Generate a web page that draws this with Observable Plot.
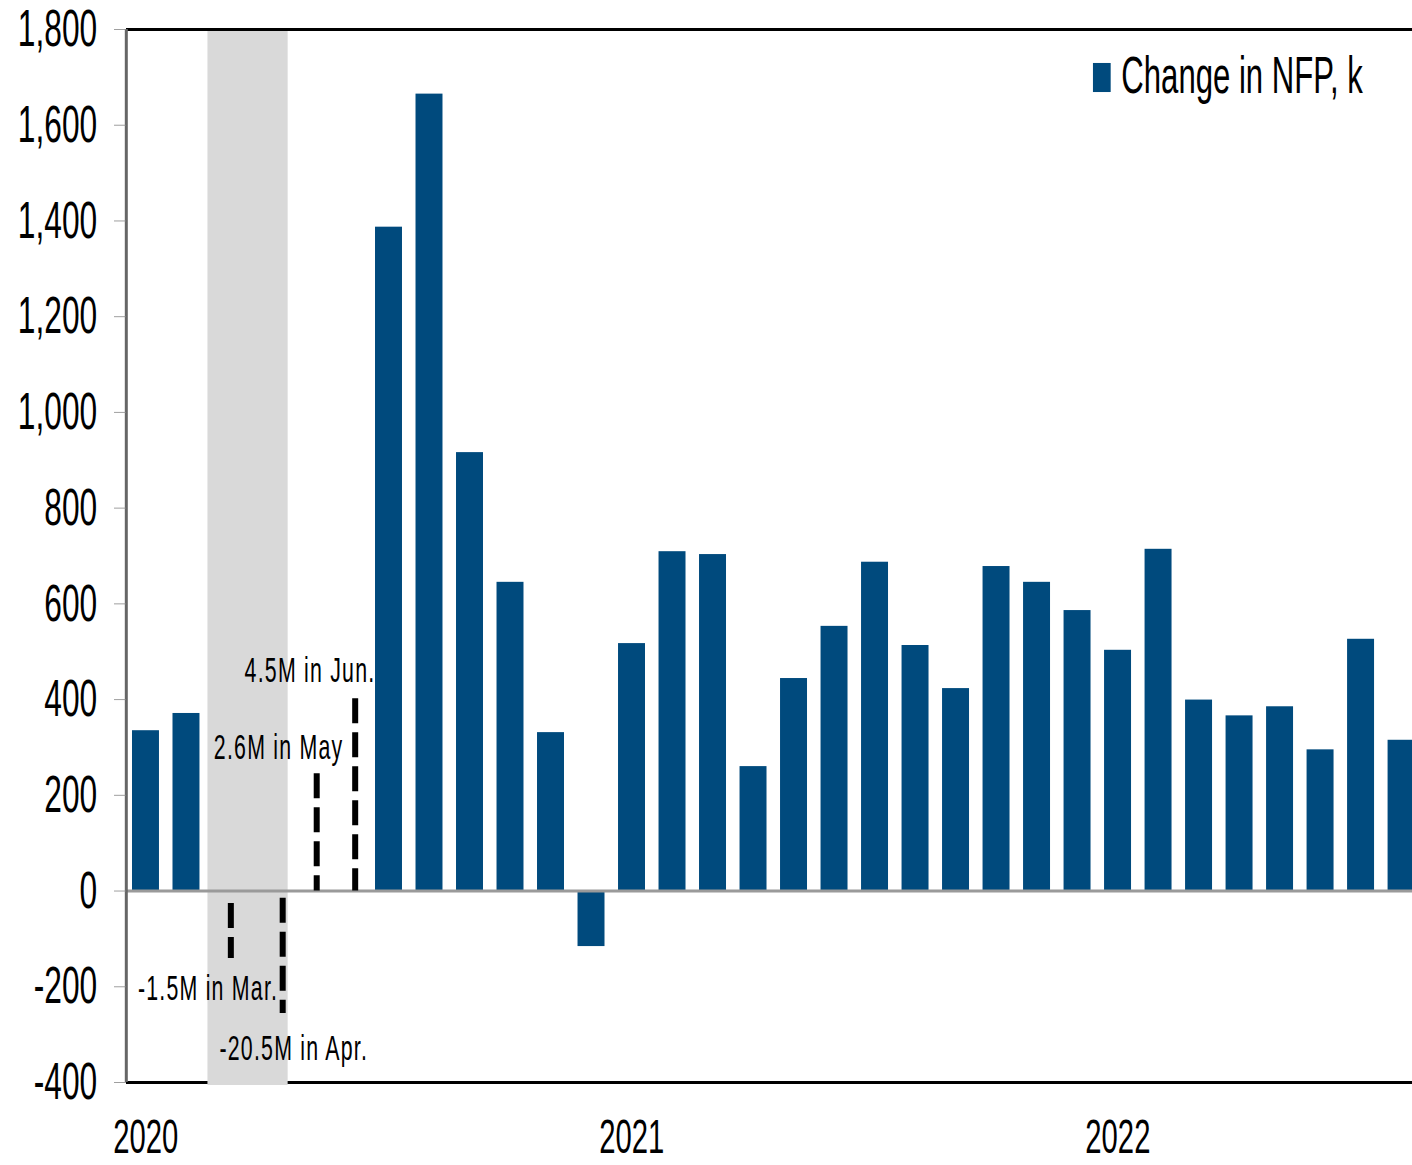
<!DOCTYPE html>
<html><head><meta charset="utf-8">
<script src="https://cdn.jsdelivr.net/npm/d3@7"></script>
<script src="https://cdn.jsdelivr.net/npm/@observablehq/plot@0.6"></script>
<style>html,body{margin:0;padding:0;background:#fff;overflow:hidden}</style>
</head><body><div id="chart"></div>
<script>
// ---- data ----
const months = ["Jan 2020","Feb 2020","Mar 2020","Apr 2020","May 2020","Jun 2020","Jul 2020","Aug 2020","Sep 2020","Oct 2020","Nov 2020","Dec 2020",
  "Jan 2021","Feb 2021","Mar 2021","Apr 2021","May 2021","Jun 2021","Jul 2021","Aug 2021","Sep 2021","Oct 2021","Nov 2021","Dec 2021",
  "Jan 2022","Feb 2022","Mar 2022","Apr 2022","May 2022","Jun 2022","Jul 2022","Aug 2022"];
const nfpChange = [335, 371, null, null, null, null, 1387, 1665, 916, 645, 331, -116,
  517, 709, 703, 260, 444, 553, 687, 513, 423, 678, 645, 586,
  503, 714, 399, 366, 385, 295, 526, 315];
const yTicks = [-400, -200, 0, 200, 400, 600, 800, 1000, 1200, 1400, 1600, 1800];
const yearLabels = ["2020", "2021", "2022"];
const yearTickIndex = [0, 12, 24];
const shadeStart = [1.53];
const shadeEnd = [3.51];
// off-scale months drawn as dashed markers
const offScaleX = [2.10, 3.38, 4.22, 5.17];
const offScaleTop = [-26, -15, 245, 402];
const offScaleBottom = [-141, -256, 0, 0];
const noteText = ["-1.5M in Mar.", "-20.5M in Apr.", "2.6M in May", "4.5M in Jun."];
const noteX = [3.27, 5.49, 4.88, 5.67];
const noteY = [-204, -330, 299, 460];
const legendLabel = "Change in NFP, k";
const barColor = "#004A7D";

// ---- tables ----
const bars = months.map((m, i) => ({m, i, v: nfpChange[i]})).filter(d => d.v != null);
const shade = shadeStart.map((a, i) => ({a, b: shadeEnd[i]}));
const offScale = offScaleX.map((x, i) => ({x, top: offScaleTop[i], bottom: offScaleBottom[i]}));
const notes = noteText.map((t, i) => ({t, x: noteX[i], y: noteY[i]}));

const fmt = d3.formatLocale({decimal: ".", thousands: ",", grouping: [3], currency: ["", ""], minus: "-"}).format(",");

const s = 0.61, W = 1412 / s, H = 1165;
const xMin = -0.481, xMax = 31.27;

const plot = Plot.plot({
  width: W, height: H,
  marginTop: 29, marginBottom: 83, marginLeft: 126 / s, marginRight: 0,
  style: {fontFamily: "'Liberation Sans', Arial, sans-serif", background: "white", color: "black"},
  x: {type: "linear", domain: [xMin, xMax]},
  y: {domain: [-400, 1800]},
  marks: [
    Plot.ruleY([-400], {stroke: "black", strokeWidth: 3}),
    Plot.rect(shade, {x1: "a", x2: "b", y1: -400, y2: 1800, fill: "#D9D9D9", insetBottom: -3}),
    Plot.ruleY([1800], {stroke: "black", strokeWidth: 3}),
    Plot.rectY(bars, {x1: d => d.i - 0.333, x2: d => d.i + 0.333, y1: 0, y2: "v", fill: barColor}),
    Plot.ruleY([0], {stroke: "#9a9a9a", strokeWidth: 3}),
    Plot.ruleX(offScale, {x: "x", y1: "top", y2: "bottom", stroke: "black", strokeWidth: 6 / s, strokeDasharray: "25,9"}),
    Plot.ruleX([xMin], {stroke: "#666", strokeWidth: 3 / s}),
    Plot.axisY({ticks: yTicks, tickFormat: fmt, tickSize: 12 / s, tickPadding: 28, fontSize: 52, stroke: "#888", fill: "black"}),
    Plot.axisX({ticks: yearTickIndex, tickFormat: d => yearLabels[yearTickIndex.indexOf(d)], tickSize: 0, tickPadding: 36, fontSize: 48}),
    Plot.text(notes, {x: "x", y: "y", text: "t", textAnchor: "end", lineAnchor: "middle", fontSize: 35}),
    Plot.dot([legendLabel], {frameAnchor: "top-right", dx: -509, dy: 48, symbol: "square", r: 16.4, fill: barColor}),
    Plot.text([legendLabel], {frameAnchor: "top-right", dx: -477, dy: 47.5, textAnchor: "start", lineAnchor: "middle", fontSize: 51})
  ]
});

plot.setAttribute("width", 1412);
plot.setAttribute("preserveAspectRatio", "none");
plot.style.width = "1412px";
plot.style.height = "1165px";
plot.style.maxWidth = "none";
plot.style.overflow = "hidden";
plot.querySelectorAll("text").forEach(t => {
  if (noteText.includes(t.textContent)) t.setAttribute("letter-spacing", 2);
});
document.getElementById("chart").appendChild(plot);
</script>
</body></html>
